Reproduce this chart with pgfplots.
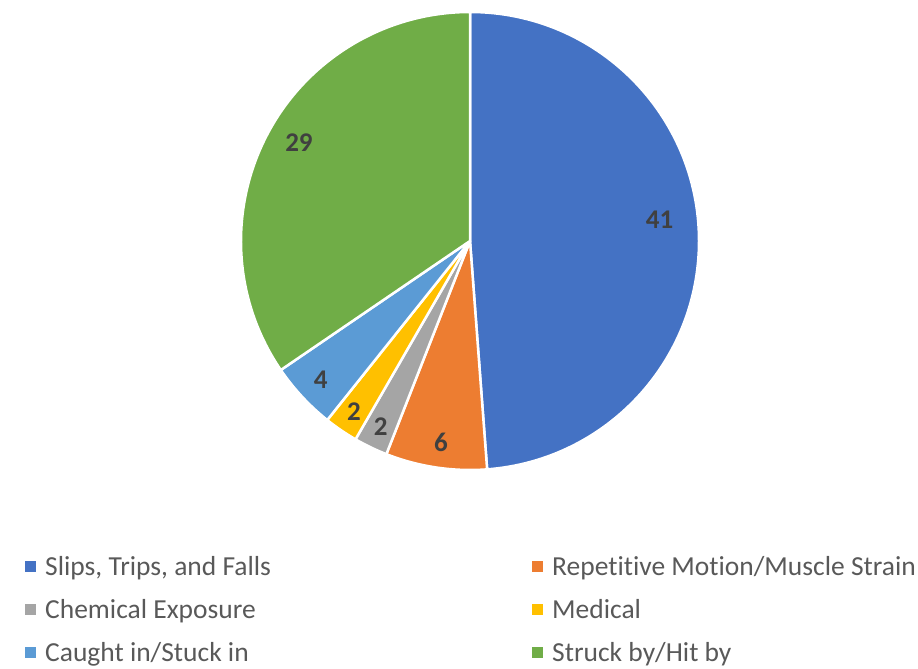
\documentclass[border=0pt]{standalone}
\usepackage{pgfplots}
\usepackage{pgfplotstable}
\pgfplotsset{compat=1.18}
\usepackage{fontspec}
\setmainfont{Carlito}[RawFeature=-liga]
\definecolor{c1}{HTML}{4472C4}
\definecolor{c2}{HTML}{ED7D31}
\definecolor{c3}{HTML}{A5A5A5}
\definecolor{c4}{HTML}{FFC000}
\definecolor{c5}{HTML}{5B9BD5}
\definecolor{c6}{HTML}{70AD47}
\definecolor{lbl}{HTML}{404040}
\definecolor{leg}{HTML}{595959}
\pgfplotstableread{
value lr da color
41 0.833 4.3 c1
6 0.89 0.4 c2
2 0.90 0 c3
2 0.90 0 c4
4 0.89 0 c5
29 0.862 -2.1 c6
}\piedata
\begin{document}
\begin{tikzpicture}
\useasboundingbox (0,0) rectangle (918pt,669pt);
\begin{axis}[at={(470pt,428pt)}, anchor=center, x=229pt, y=229pt,
  xmin=-1, xmax=1, ymin=-1, ymax=1, hide axis, clip=false]
\pgfplotstablegetrowsof{\piedata}
\pgfmathtruncatemacro\N{\pgfplotsretval-1}
\def\total{0}
\pgfplotsforeachungrouped \i in {0,...,\N}{%
  \pgfplotstablegetelem{\i}{value}\of\piedata
  \pgfmathsetmacro\total{\total+\pgfplotsretval}%
}
\def\cum{0}
\pgfplotsforeachungrouped \i in {0,...,\N}{%
  \pgfplotstablegetelem{\i}{value}\of\piedata \let\v\pgfplotsretval
  \pgfplotstablegetelem{\i}{color}\of\piedata \let\c\pgfplotsretval
  \pgfmathsetmacro\sa{90-\cum/\total*360}%
  \pgfmathsetmacro\ea{90-(\cum+\v)/\total*360}%
  \edef\temp{\noexpand\fill[\c, draw=white, line width=2.5pt, line join=round] (axis cs:0,0) -- (axis cs:{cos(\sa)},{sin(\sa)}) arc[start angle=\sa, end angle=\ea, radius=229pt] -- cycle;}%
  \temp
  \pgfmathsetmacro\cum{\cum+\v}%
}
\def\cum{0}
\pgfplotsforeachungrouped \i in {0,...,\N}{%
  \pgfplotstablegetelem{\i}{value}\of\piedata \let\v\pgfplotsretval
  \pgfplotstablegetelem{\i}{lr}\of\piedata \let\lr\pgfplotsretval
  \pgfplotstablegetelem{\i}{da}\of\piedata \let\da\pgfplotsretval
  \pgfmathsetmacro\sa{90-\cum/\total*360}%
  \pgfmathsetmacro\ea{90-(\cum+\v)/\total*360}%
  \pgfmathsetmacro\ma{(\sa+\ea)/2+\da}%
  \pgfmathsetmacro\lx{\lr*cos(\ma)}%
  \pgfmathsetmacro\ly{\lr*sin(\ma)}%
  \pgfmathtruncatemacro\vi{\v}%
  \edef\temp{\noexpand\node[text=lbl, inner sep=0pt, font=\noexpand\fontsize{27}{32}\noexpand\selectfont\noexpand\bfseries] at (axis cs:\lx,\ly) {\vi};}%
  \temp
  \pgfmathsetmacro\cum{\cum+\v}%
}
\end{axis}
\tikzset{legtext/.style={anchor=base west, text=leg, inner sep=0pt, font=\fontsize{27.5}{33}\selectfont}}
\fill[c1] (24.5pt,96.5pt) rectangle (35.5pt,107.5pt);
\node[legtext] at (45pt,93pt) {Slips, Trips, and Falls};
\fill[c3] (24.5pt,53.5pt) rectangle (35.5pt,64.5pt);
\node[legtext] at (45pt,50pt) {Chemical Exposure};
\fill[c5] (24.5pt,10.5pt) rectangle (35.5pt,21.5pt);
\node[legtext] at (45pt,7.5pt) {Caught in/Stuck in};
\fill[c2] (531.5pt,96.5pt) rectangle (542.5pt,107.5pt);
\node[legtext] at (552pt,93pt) {Repetitive Motion/Muscle Strain};
\fill[c4] (531.5pt,53.5pt) rectangle (542.5pt,64.5pt);
\node[legtext] at (552pt,50pt) {Medical};
\fill[c6] (531.5pt,10.5pt) rectangle (542.5pt,21.5pt);
\node[legtext] at (552pt,7.5pt) {Struck by/Hit by};
\end{tikzpicture}
\end{document}
